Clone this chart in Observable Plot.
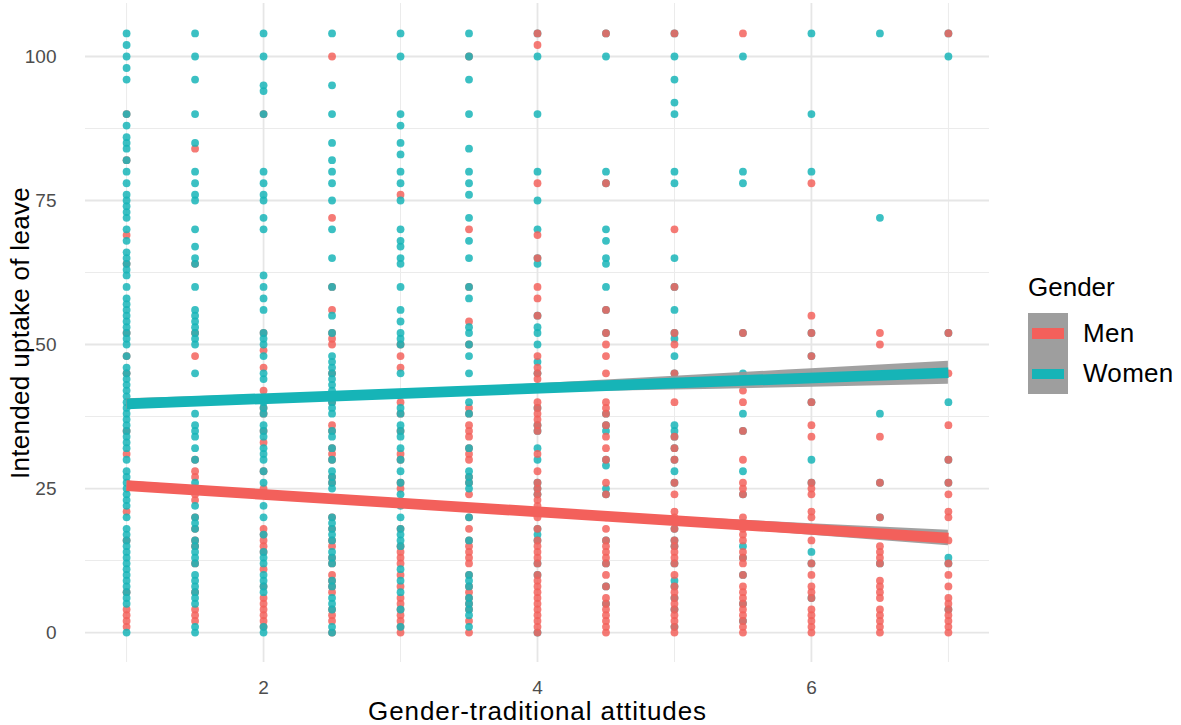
<!DOCTYPE html>
<html>
<head>
<meta charset="utf-8">
<script src="https://cdn.jsdelivr.net/npm/d3@7"></script>
<script src="https://cdn.jsdelivr.net/npm/@observablehq/plot@0.6"></script>
<style>
  html, body { margin: 0; padding: 0; background: #fff; }
  #wrap { position: relative; width: 1181px; height: 725px; font-family: "Liberation Sans", Arial, Helvetica, sans-serif; }
  #legend { position: absolute; left: 1028px; top: 272px; color: #000; }
  #legend .title { font-size: 26px; line-height: 30px; height: 30px; margin-bottom: 11px; }
  #legend .row { display: flex; align-items: center; height: 40.5px; }
  #legend .key { width: 40px; height: 40.5px; background: #9e9e9e; position: relative; }
  #legend .key span { position: absolute; left: 4px; right: 4px; top: 15px; height: 10.5px; }
  #legend .lab { font-size: 26px; margin-left: 15px; letter-spacing: 0.3px; }
</style>
</head>
<body>
<div id="wrap"></div>
<script>
// x levels of the gender-traditional attitudes scale
const xLevels = [1, 1.5, 2, 2.5, 3, 3.5, 4, 4.5, 5, 5.5, 6, 6.5, 7];

// intended uptake of leave (weeks), Men, per x level
const menUptake = [
  [90, 82, 69, 64, 52, 48, 45, 35, 31, 21, 16, 7, 4, 3, 2, 1],
  [84, 64, 52, 48, 30, 28, 27, 25, 24, 23, 20, 18, 16, 15, 12, 7, 4, 3, 2],
  [90, 52, 49, 46, 42, 39, 38, 35, 33, 28, 25, 18, 17, 16, 15, 14, 11, 8, 6, 5, 4, 3, 2, 1],
  [100, 72, 60, 56, 52, 51, 50, 45, 40, 36, 35, 32, 31, 30, 27, 26, 20, 18, 16, 15, 13, 12, 10, 9, 8, 7, 4, 3, 2, 0],
  [76, 50, 48, 46, 40, 38, 35, 31, 30, 26, 25, 18, 15, 14, 13, 12, 10, 8, 6, 5, 4, 3, 2, 1, 0],
  [100, 70, 60, 54, 50, 39, 38, 36, 35, 34, 32, 31, 30, 27, 26, 24, 20, 18, 16, 15, 14, 13, 12, 10, 8, 7, 6, 5, 4, 2, 0],
  [104, 102, 78, 69, 65, 60, 58, 55, 48, 46, 45, 44, 40, 39, 38, 37, 36, 35, 31, 28, 26, 25, 24, 23, 22, 21, 20, 18, 16, 15, 14, 13, 12, 10, 9, 8, 7, 6, 5, 4, 3, 2, 1, 0],
  [104, 78, 56, 52, 50, 48, 45, 40, 39, 38, 36, 34, 32, 30, 26, 24, 20, 18, 16, 15, 14, 13, 12, 10, 8, 6, 5, 4, 3, 2, 1, 0],
  [104, 70, 60, 52, 50, 45, 40, 34, 32, 30, 26, 24, 21, 20, 18, 16, 15, 14, 13, 12, 10, 8, 7, 6, 5, 4, 3, 2, 1, 0],
  [104, 52, 42, 40, 35, 30, 26, 25, 24, 20, 19, 18, 17, 16, 14, 13, 12, 10, 8, 7, 6, 5, 4, 3, 2, 1, 0],
  [78, 55, 52, 48, 40, 36, 34, 26, 25, 24, 21, 20, 16, 12, 10, 8, 7, 6, 4, 3, 2, 1, 0],
  [52, 50, 34, 26, 20, 15, 14, 13, 12, 9, 8, 7, 6, 4, 3, 2, 1, 0],
  [104, 52, 45, 36, 30, 26, 24, 21, 20, 16, 12, 10, 8, 6, 5, 4, 3, 2, 1, 0]
];

// intended uptake of leave (weeks), Women, per x level
const womenUptake = [
  [104, 102, 100, 98, 96, 90, 88, 86, 85, 84, 82, 80, 78, 76, 75, 74, 73, 72, 70, 68, 66, 65, 64, 63, 62, 60, 58, 57, 56, 55, 54, 53, 52, 51, 50, 48, 46, 45, 44, 43, 42, 41, 40, 39, 38, 37, 36, 35, 34, 33, 32, 30, 28, 27, 26, 25, 24, 23, 22, 20, 18, 17, 16, 15, 14, 13, 12, 11, 10, 9, 8, 7, 6, 5, 0],
  [104, 100, 96, 90, 85, 80, 78, 76, 75, 70, 67, 65, 64, 60, 56, 55, 54, 53, 52, 51, 50, 45, 40, 38, 36, 35, 34, 32, 30, 26, 22, 20, 19, 18, 16, 15, 14, 13, 12, 10, 9, 8, 7, 6, 5, 1, 0],
  [104, 100, 95, 94, 90, 80, 78, 76, 75, 72, 70, 62, 60, 58, 56, 52, 51, 50, 48, 45, 44, 40, 39, 38, 36, 35, 34, 32, 31, 30, 28, 26, 22, 20, 17, 14, 13, 12, 10, 9, 8, 7, 1, 0],
  [104, 95, 90, 85, 82, 80, 78, 75, 70, 65, 60, 55, 52, 48, 47, 46, 45, 44, 43, 42, 41, 40, 39, 38, 35, 34, 32, 30, 28, 27, 26, 25, 20, 19, 18, 17, 16, 14, 13, 12, 9, 8, 6, 5, 4, 1, 0],
  [104, 100, 90, 88, 85, 83, 80, 78, 75, 70, 68, 67, 65, 64, 60, 56, 54, 52, 51, 50, 45, 39, 38, 36, 35, 34, 32, 30, 28, 26, 24, 22, 20, 18, 17, 16, 15, 11, 9, 7, 4, 1],
  [104, 100, 96, 90, 84, 80, 78, 76, 72, 68, 65, 60, 58, 53, 52, 50, 48, 45, 40, 38, 32, 28, 27, 26, 25, 20, 16, 10, 9, 8, 6, 5, 4, 3, 1],
  [104, 100, 90, 80, 75, 70, 65, 64, 55, 53, 52, 50, 47, 45, 39, 36, 35, 32, 30, 26, 25, 24, 18, 17, 16, 12, 10, 0],
  [104, 100, 80, 78, 70, 68, 65, 64, 60, 56, 52, 38, 36, 35, 30, 29, 25, 24, 16, 12, 8, 5],
  [104, 100, 96, 92, 90, 80, 78, 65, 60, 56, 52, 51, 48, 45, 36, 35, 34, 32, 30, 28, 26, 18, 16, 15, 12, 9, 8, 6, 4, 1],
  [100, 80, 78, 52, 45, 38, 35, 28, 24, 15, 13, 10, 5, 2],
  [104, 90, 80, 52, 48, 40, 30, 26, 14, 12, 6],
  [104, 72, 38, 26, 20, 12],
  [104, 100, 52, 40, 30, 26, 13, 12, 4]
];

// fitted regression lines (endpoints) and their confidence bands
const fitX = [1, 7];
const menFit = [25.5, 16.4];
const womenFit = [39.7, 45.1];
const bandX = [1, 2, 3, 4, 5, 6, 7];
const menLow = [24.7, 23.4, 22.0, 20.45, 18.7, 16.9, 15.05];
const menHigh = [26.3, 24.6, 23.0, 21.45, 20.1, 18.9, 17.75];
const womenLow = [38.8, 39.9, 40.9, 41.6, 42.1, 42.6, 43.1];
const womenHigh = [40.6, 41.3, 42.1, 43.2, 44.5, 45.8, 47.1];

const genders = ["Men", "Women"];
const genderColors = ["#f3605b", "#16b4b7"];
const yTicks = [0, 25, 50, 75, 100];
const yMinor = [12.5, 37.5, 62.5, 87.5];
const xTicks = [2, 4, 6];
const xMinor = [1, 3, 5, 7];
const xTitle = "Gender-traditional attitudes";
const yTitle = "Intended uptake of leave";

// build point table
const points = [];
xLevels.forEach((x, i) => {
  const m = menUptake[i].map(y => ({x, y, g: "Men"}));
  const w = womenUptake[i].map(y => ({x, y, g: "Women"}));
  if (x < 4) points.push(...m, ...w); else points.push(...w, ...m);
});
const fits = [
  ...fitX.map((x, i) => ({x, y: menFit[i], g: "Men"})),
  ...fitX.map((x, i) => ({x, y: womenFit[i], g: "Women"}))
];
const bands = [
  ...bandX.map((x, i) => ({x, lo: menLow[i], hi: menHigh[i], g: "Men"})),
  ...bandX.map((x, i) => ({x, lo: womenLow[i], hi: womenHigh[i], g: "Women"}))
];

const W = 1181, H = 725;
const chart = Plot.plot({
  width: W,
  height: H,
  marginLeft: 85,
  marginRight: 192,
  marginTop: 3,
  marginBottom: 63,
  style: {fontFamily: "'Liberation Sans', Arial, Helvetica, sans-serif", background: "#fff"},
  x: {domain: [0.7, 7.3]},
  y: {domain: [-5.2, 109.2]},
  color: {domain: genders, range: genderColors},
  marks: [
    Plot.ruleY(yMinor, {stroke: "#ebebeb", strokeWidth: 1}),
    Plot.ruleX(xMinor, {stroke: "#ebebeb", strokeWidth: 1}),
    Plot.ruleY(yTicks, {stroke: "#e6e6e6", strokeWidth: 1.8}),
    Plot.ruleX(xTicks, {stroke: "#e6e6e6", strokeWidth: 1.8}),
    Plot.dot(points, {x: "x", y: "y", fill: "g", r: 3.9, fillOpacity: 0.84, stroke: null}),
    Plot.areaY(bands, {x: "x", y1: "lo", y2: "hi", z: "g", fill: "#999999", fillOpacity: 0.92, curve: "monotone-x"}),
    Plot.line(fits, {x: "x", y: "y", stroke: "g", z: "g", strokeWidth: 10.7, strokeLinecap: "butt"}),
    Plot.axisY(yTicks, {tickSize: 0, tickPadding: 29, fontSize: 19, color: "#4d4d4d", label: null, tickFormat: d => String(d)}),
    Plot.axisX(xTicks, {tickSize: 0, tickPadding: 18, fontSize: 19, color: "#4d4d4d", label: null, tickFormat: d => String(d)}),
    Plot.text([xTitle], {frameAnchor: "bottom", textAnchor: "middle", lineAnchor: "middle", dy: 49, fontSize: 26, fill: "#000"}),
    Plot.text([yTitle], {frameAnchor: "left", textAnchor: "middle", lineAnchor: "middle", dx: -65, rotate: -90, fontSize: 26, fill: "#000"})
  ]
});
const wrap = document.getElementById("wrap");
wrap.appendChild(chart);

// widen the x-axis title slightly, as in the original rendering
d3.select(chart).selectAll("text").filter(function () { return this.textContent === xTitle; })
  .style("letter-spacing", "0.9px");
d3.select(chart).selectAll("text").filter(function () { return this.textContent === yTitle; })
  .style("letter-spacing", "0.3px");

// legend
const legend = document.createElement("div");
legend.id = "legend";
legend.innerHTML = `<div class="title">Gender</div>` + genders.map((g, i) =>
  `<div class="row"><div class="key"><span style="background:${genderColors[i]}"></span></div><div class="lab">${g}</div></div>`
).join("");
wrap.appendChild(legend);
</script>
</body>
</html>
